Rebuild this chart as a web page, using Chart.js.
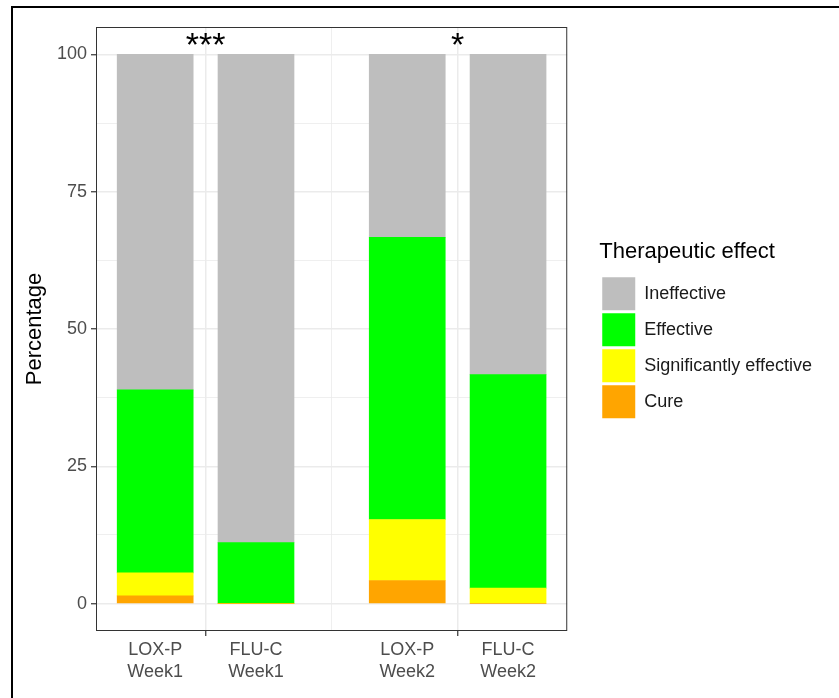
<!DOCTYPE html>
<html>
<head>
<meta charset="utf-8">
<script src="https://cdn.jsdelivr.net/npm/chart.js@4"></script>
<style>
  html, body { margin: 0; padding: 0; background: #fff; overflow: hidden; }
  #wrap { position: relative; width: 839px; height: 698px; }
  #frame { position: absolute; left: 11px; top: 6px; right: -20px; bottom: -20px;
           border-left: 2px solid #000; border-top: 2px solid #000; pointer-events: none; }
</style>
</head>
<body>
<div id="wrap">
  <canvas id="chart"></canvas>
  <div id="frame"></div>
</div>
<script>
// bars, left to right
const drugs = ['LOX-P', 'FLU-C', 'LOX-P', 'FLU-C'];
const weeks = ['Week1', 'Week1', 'Week2', 'Week2'];

// share of patients per effect (%), stacked bottom to top
const cure        = [1.4, 0,    4.2,  0];
const significant = [4.2, 0,    11.1, 2.8];
const effective   = [33.3, 11.1, 51.4, 38.9];
const ineffective = [61.1, 88.9, 33.3, 58.3];

// significance between the two drugs of each week
const signif = ['***', '*'];

const yTicks = [0, 25, 50, 75, 100];

// two drugs side by side, a wider gap between the weeks
const barX = drugs.map((d, i) => 1 + Math.floor(i / 2) * 2.5 + (i % 2));
const pairMid = signif.map((s, w) => (barX[w * 2] + barX[w * 2 + 1]) / 2);

const toPoints = arr => arr.map((v, i) => ({ x: barX[i], y: v }));

const isBar = v => barX.some(x => Math.abs(x - v) < 1e-6);
const isPair = v => pairMid.some(x => Math.abs(x - v) < 1e-6);

const panelBorder = {
  id: 'panelBorder',
  afterDatasetsDraw(chart) {
    const { ctx, chartArea: a, scales } = chart;
    ctx.save();
    ctx.strokeStyle = '#333333';
    ctx.lineWidth = 1;
    ctx.strokeRect(a.left + 0.5, a.top + 0.5, a.right - a.left - 1, a.bottom - a.top - 1);

    // significance stars above each week pair
    ctx.fillStyle = '#000';
    ctx.font = '34px "Liberation Sans", Arial, sans-serif';
    ctx.textAlign = 'center';
    ctx.textBaseline = 'alphabetic';
    signif.forEach((s, w) => {
      const m = ctx.measureText(s);
      const cy = scales.y.getPixelForValue(102.9);
      const off = (m.actualBoundingBoxAscent - m.actualBoundingBoxDescent) / 2;
      ctx.fillText(s, scales.x.getPixelForValue(pairMid[w]), cy + off);
    });
    ctx.restore();
  }
};

Chart.defaults.font.family = '"Liberation Sans", Arial, sans-serif';

new Chart(document.getElementById('chart'), {
  type: 'bar',
  data: {
    datasets: [
      { label: 'Cure', data: toPoints(cure), backgroundColor: '#ffa500' },
      { label: 'Significantly effective', data: toPoints(significant), backgroundColor: '#ffff00' },
      { label: 'Effective', data: toPoints(effective), backgroundColor: '#00ff00' },
      { label: 'Ineffective', data: toPoints(ineffective), backgroundColor: '#bebebe' }
    ]
  },
  options: {
    responsive: true,
    maintainAspectRatio: false,
    animation: false,
    layout: { padding: { top: 27, right: 17, bottom: 0, left: 0 } },
    datasets: { bar: { barThickness: 76, borderWidth: 0 } },
    scales: {
      x: {
        type: 'linear',
        stacked: true,
        offset: false,
        min: barX[0] - 0.587,
        max: barX[barX.length - 1] + 0.587,
        afterBuildTicks(s) {
          const vals = [...barX, ...pairMid, (pairMid[0] + pairMid[1]) / 2].sort((a, b) => a - b);
          s.ticks = vals.map(v => ({ value: v }));
        },
        afterFit(s) { s.height = 67; },
        border: { display: false },
        grid: {
          offset: false,
          color: c => (c.tick && isBar(c.tick.value)) ? 'rgba(0,0,0,0)' : '#ebebeb',
          lineWidth: c => (c.tick && isPair(c.tick.value)) ? 1.5 : 0.8,
          tickColor: c => (c.tick && isPair(c.tick.value)) ? '#333333' : 'rgba(0,0,0,0)',
          tickWidth: 1.2,
          tickLength: 5
        },
        ticks: {
          autoSkip: false,
          maxRotation: 0,
          padding: 3,
          color: '#4d4d4d',
          font: { size: 18, lineHeight: 1.22 },
          callback: v => {
            const i = barX.findIndex(x => Math.abs(x - v) < 1e-6);
            return i < 0 ? '' : [drugs[i], weeks[i]];
          }
        }
      },
      y: {
        stacked: true,
        min: -5,
        max: 105,
        afterBuildTicks(s) {
          const vals = [];
          for (let i = 0; i < yTicks.length; i++) {
            vals.push(yTicks[i]);
            if (i < yTicks.length - 1) vals.push((yTicks[i] + yTicks[i + 1]) / 2);
          }
          s.ticks = vals.map(v => ({ value: v }));
        },
        afterFit(s) { s.width = 96; },
        border: { display: false },
        grid: {
          color: '#ebebeb',
          lineWidth: c => (c.tick && yTicks.includes(c.tick.value)) ? 1.5 : 0.8,
          tickColor: c => (c.tick && yTicks.includes(c.tick.value)) ? '#333333' : 'rgba(0,0,0,0)',
          tickWidth: 1.2,
          tickLength: 5
        },
        ticks: {
          padding: 4,
          color: '#4d4d4d',
          font: { size: 18 },
          callback: v => yTicks.includes(v) ? String(v) : ''
        },
        title: {
          display: true,
          text: 'Percentage',
          color: '#000',
          font: { size: 22 },
          padding: { top: 22, bottom: 0 }
        }
      },
      gap: {
        type: 'linear',
        position: 'right',
        display: true,
        grid: { display: false },
        border: { display: false },
        ticks: { display: false },
        afterFit(s) { s.width = 32; }
      }
    },
    plugins: {
      legend: {
        position: 'right',
        fullSize: false,
        reverse: true,
        maxWidth: 400,
        title: {
          display: true,
          text: 'Therapeutic effect',
          position: 'start',
          color: '#000',
          font: { size: 22 },
          padding: { top: 4, bottom: 7 }
        },
        labels: {
          boxWidth: 33,
          boxHeight: 33,
          padding: 3,
          color: '#1a1a1a',
          font: { size: 18 }
        }
      },
      tooltip: { enabled: false }
    }
  },
  plugins: [panelBorder]
});
</script>
</body>
</html>
